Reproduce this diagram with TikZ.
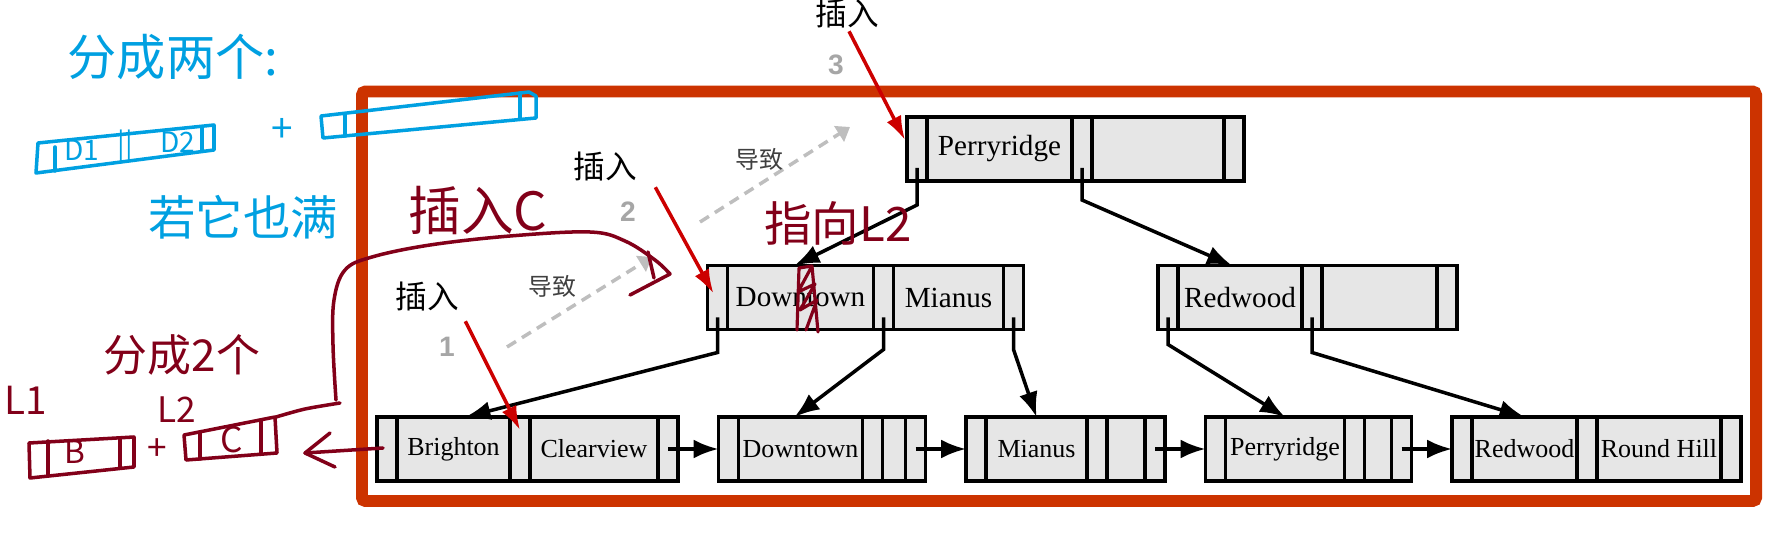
\documentclass[tikz,border=0pt]{standalone}
\usepackage{fontspec}
\setmainfont{Liberation Serif}
\newfontfamily\cjk{Noto Sans CJK SC}
\newfontfamily\numfont{Liberation Sans}
\usetikzlibrary{arrows.meta,positioning,calc}
\definecolor{framered}{RGB}{204,51,0}
\definecolor{printred}{RGB}{204,0,0}
\definecolor{cellgray}{RGB}{230,230,230}
\definecolor{causegray}{RGB}{190,190,190}
\definecolor{blueink}{RGB}{0,160,225}
\definecolor{redink}{RGB}{130,0,25}
\tikzset{
  ptrcell/.style={draw, line width=1pt, fill=cellgray, minimum width=2mm, minimum height=6.4mm, inner sep=0pt, outer sep=0pt},
  keycell/.style={ptrcell},
  treefont/.style={font=\fontsize{8.3}{10}\selectfont},
  leaffont/.style={font=\fontsize{7.4}{9}\selectfont},
  link/.style={-{Latex[length=2.5mm,width=1.9mm]}, line width=1pt},
  insarr/.style={-{Latex[length=2.4mm,width=1.6mm]}, printred, line width=1pt},
  causearr/.style={-{Triangle[length=1.3mm,width=1.8mm]}, causegray, line width=1pt, dash pattern=on 3pt off 2pt},
  inslabel/.style={font=\cjk\fontsize{9}{10}\selectfont, inner sep=0pt},
  causelabel/.style={font=\cjk\fontsize{6.8}{8}\selectfont, text=black!75, inner sep=0pt},
  stepnum/.style={font=\numfont\bfseries\fontsize{8}{9}\selectfont, text=black!35, inner sep=0pt},
  hand/.style={font=\cjk\fontsize{#1}{#1}\selectfont, inner sep=0pt},
  blue pen/.style={blueink, line width=1pt, line cap=round, line join=round},
  red pen/.style={redink, line width=1pt, line cap=round, line join=round},
}
% one B+-tree node: pointer | key | pointer | key | pointer
\newcommand{\bnode}[7]{%
  \node[ptrcell] (#1-p0) at (#2) {};
  \node[keycell, #7, minimum width=#3, right=0pt of #1-p0] (#1-k0) {#4};
  \node[ptrcell, right=0pt of #1-k0] (#1-p1) {};
  \node[keycell, #7, minimum width=#5, right=0pt of #1-p1] (#1-k1) {#6};
  \node[ptrcell, right=0pt of #1-k1] (#1-p2) {};
}

\begin{document}
\begin{tikzpicture}[x=0.1mm, y=-0.1mm]
  \useasboundingbox (0,0) rectangle (1783,537);
  \draw[framered, line width=3.4pt, rounded corners=1pt] (362,91.5) rectangle (1756,501);

  % tree nodes
  \bnode{r}{917,149}{14.5mm}{Perryridge}{13.2mm}{}{treefont}
  \bnode{i}{717.5,297.5}{14.6mm}{Downtown}{11mm}{Mianus}{treefont}
  \bnode{j}{1168,297.5}{12.4mm}{Redwood}{11.5mm}{}{treefont}
  \bnode{a}{387,449}{11.3mm}{Brighton}{12.8mm}{Clearview}{leaffont}
  \bnode{b}{728.5,449}{12.4mm}{Downtown}{2.3mm}{}{leaffont}
  \bnode{c}{976,449}{10.1mm}{Mianus}{3.8mm}{}{leaffont}
  \bnode{d}{1215.5,449}{11.9mm}{Perryridge}{2.7mm}{}{leaffont}
  \bnode{e}{1462,449}{10.5mm}{Redwood}{12.4mm}{Round Hill}{leaffont}

  % child pointers
  \draw[link] ($(r-p0.south)+(0,-13)$) -- ++(0,37) -- ([xshift=-0.6mm]i-k0.north);
  \draw[link] ($(r-p1.south)+(0,-13)$) -- ++(0,32) -- ([xshift=-0.8mm]j-k0.north);
  \draw[link] ($(i-p0.south)+(0,-12)$) -- ++(0,35) -- ([xshift=1.2mm]a-k0.north);
  \draw[link] ($(i-p1.south)+(0,-12)$) -- ++(0,32) -- ([xshift=-0.6mm]b-k0.north);
  \draw[link] ($(i-p2.south)+(0,-12)$) -- ++(0,32) -- (c-k0.north);
  \draw[link] ($(j-p0.south)+(0,-12)$) -- ++(0,27) -- (d-k0.north);
  \draw[link] ($(j-p1.south)+(0,-12)$) -- ++(0,35) -- (e-k0.north);
  \foreach \u/\v in {a/b,b/c,c/d,d/e}
    \draw[link] (\u-p2.center) -- (\v-p0.west);

  % insert steps
  \node[inslabel] (ins1) at (427,296) {插入};
  \node[stepnum] (num1) at (447,347) {1};
  \draw[insarr] ($(ins1.south east)+(6,10)$) -- ($(a-p1.center)+(0,-19)$);
  \node[inslabel] (ins2) at (605,167) {插入};
  \node[stepnum] (num2) at (628,212) {2};
  \draw[insarr] ($(ins2.south east)+(18,5)$) -- ($(i-p0.center)+(-4,-4)$);
  \node[inslabel] (ins3) at (847,14) {插入};
  \node[stepnum] (num3) at (836,65) {3};
  \draw[insarr] ($(ins3.south)+(2,2)$) -- ($(r-p0.west)+(-2,-9)$);

  % splits cause inserts above
  \coordinate (cause1s) at (507,347);
  \coordinate (cause1e) at (652,257);
  \draw[causearr] (cause1s) -- (cause1e);
  \node[causelabel] (cause1) at (552,286) {导致};
  \coordinate (cause2s) at (700,222);
  \coordinate (cause2e) at (850,127);
  \draw[causearr] (cause2s) -- (cause2e);
  \node[causelabel] (cause2) at (759,159) {导致};

  % blue notes
  \node[hand=14, text=blueink] (split) at (173,57) {分成两个:};
  \draw[blue pen] (38,143) -- (214,125) -- (214,150) -- (36,173) -- cycle;
  \draw[blue pen] (55,147) -- (55,171) (202,128) -- (202,151);
  \node[hand=8, text=blueink] (bd1) at (82,150) {D1};
  \node[hand=8, text=blueink] (bbar) at (125,146) {||};
  \node[hand=8, text=blueink] (bd2) at (178,142) {D2};
  \node[hand=11, text=blueink] (bplus) at (282,130) {+};
  \draw[blue pen] (321,116) -- (529,92) -- (536,96) -- (536,118) -- (323,138) -- cycle;
  \draw[blue pen] (345,114) -- (345,136) (520,93) -- (520,119);
  \node[hand=13.5, text=blueink] (full) at (243,217) {若它也满};

  % red notes
  \node[hand=15, text=redink] (insc) at (478,210) {插入C};
  \node[hand=12.5, text=redink] (split2) at (182,355) {分成2个};
  \node[hand=11, text=redink] (l1) at (26,400) {L1};
  \node[hand=10, text=redink] (l2) at (177,410) {L2};
  \draw[red pen] (29,443) -- (134,437) -- (134,467) -- (30,478) -- cycle;
  \draw[red pen] (48,441) -- (48,476) (120,438) -- (120,468);
  \node[hand=9, text=redink] (lb) at (75,452) {B};
  \node[hand=10, text=redink] (rplus) at (157,450) {+};
  \draw[red pen] (184,435) -- (275,417) -- (277,453) -- (186,460) -- cycle;
  \draw[red pen] (200,432) -- (200,459) (261,420) -- (261,454);
  \node[hand=10, text=redink] (lc) at (232,440) {C};
  \draw[red pen] plot[smooth] coordinates {(276,417) (305,409) (340,403)};
  \draw[red pen] plot[smooth, tension=0.6] coordinates {(336,400) (333,345) (334,300) (345,270) (372,257) (430,245) (510,236) (590,232) (625,241) (655,260) (670,274)} -- (630,295);
  \draw[red pen] (648,252) -- (654,278);
  \coordinate (back) at (305,453);
  \draw[red pen] ($(a-p0.center)+(-4,-1)$) -- (back);
  \draw[red pen] (330,433) -- (back) -- (335,467);
  \node[hand=13.5, text=redink] (ptl2) at (838,223) {指向L2};
  \draw[red pen, line width=0.9pt] (797,330) -- (799,268) -- (812,266) -- (798,292) -- (815,284) -- (800,310) -- (817,300) -- (806,330) (812,266) -- (818,332);
\end{tikzpicture}
\end{document}
